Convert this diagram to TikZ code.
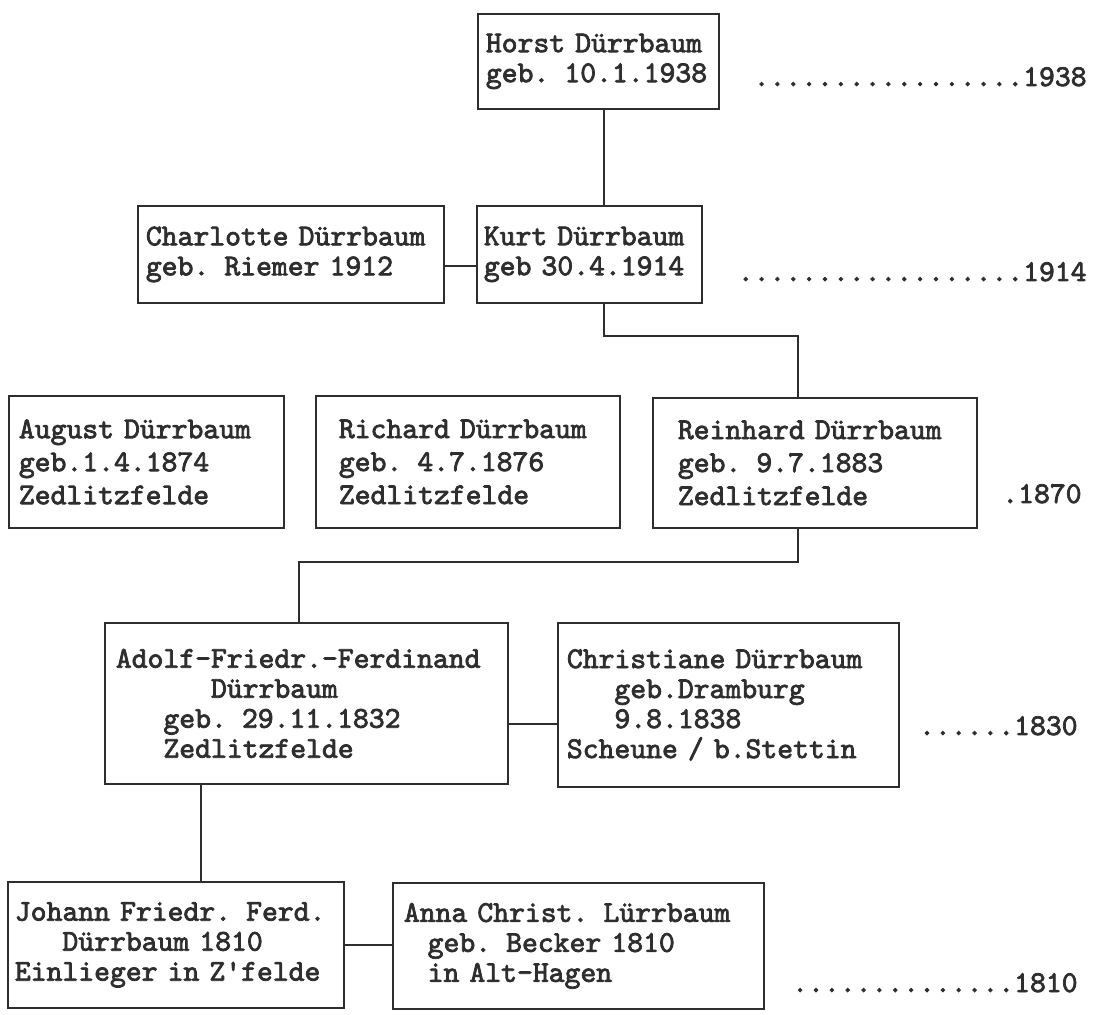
\documentclass[tikz,border=0pt]{standalone}
\usepackage{fontspec}
\usepackage{tikz}

\newfontfamily\typew{lmmono10-regular}[Extension = .otf, FakeBold = 2.5]
\definecolor{ink}{HTML}{2E2E2E}
\newcommand{\typesp}[1]{\hspace*{#1\dimexpr 0.525em\relax}}
\newcommand{\typefont}[1]{\typew\fontsize{15.1}{#1}\selectfont\spaceskip = 0.525em\relax}

\tikzset{
    person/.style = {draw = ink, line width = 0.9pt, anchor = north west, align = left,
        inner xsep = 5pt, inner ysep = 0pt, text = ink, font = \typefont{15}},
    yearmark/.style = {anchor = base east, inner sep = 0pt, text = ink, font = \typefont{15}},
    link/.style = {draw = ink, line width = 0.9pt}
}

\begin{document}
\begin{tikzpicture}[x = 0.5pt, y = -0.5pt]
            \useasboundingbox (0, 0) rectangle (1109, 1015);

            \node[person, inner xsep = 4pt, text width = 112.5pt, minimum height = 47.5pt] (horst) at (477, 13)
                {Horst Dürrbaum\\geb. 10.1.1938};
            \node[person, inner xsep = 4pt, text width = 145pt, minimum height = 48.5pt] (charlotte) at (137, 205)
                {Charlotte Dürrbaum\\geb. Riemer 1912};
            \node[person, inner xsep = 3.5pt, text width = 105.5pt, minimum height = 48.5pt] (kurt) at (476, 205)
                {Kurt Dürrbaum\\geb 30.4.1914};

            \node[person, text width = 127.5pt, minimum height = 66pt, font = \typefont{16.5}] (august) at (8, 395)
                {August Dürrbaum\\geb.1.4.1874\\Zedlitzfelde};
            \node[person, inner xsep = 11.5pt, text width = 129pt, minimum height = 66pt, font = \typefont{16.5}] (richard) at (315, 395)
                {Richard Dürrbaum\\geb. 4.7.1876\\Zedlitzfelde};
            \node[person, inner xsep = 12.5pt, text width = 137pt, minimum height = 65pt, font = \typefont{16.5}] (reinhard) at (652, 397)
                {Reinhard Dürrbaum\\geb. 9.7.1883\\Zedlitzfelde};

            \node[person, inner xsep = 5.5pt, text width = 190.5pt, minimum height = 80.5pt] (adolf) at (104, 622)
                {Adolf-Friedr.-Ferdinand\\\typesp{6}Dürrbaum\\\typesp{3}geb. 29.11.1832\\\typesp{3}Zedlitzfelde};
            \node[person, inner xsep = 4.5pt, text width = 161.5pt, minimum height = 82pt] (christiane) at (557, 622)
                {Christiane Dürrbaum\\\typesp{3}geb.Dramburg\\\typesp{3}9.8.1838\\Scheune / b.Stettin};

            \node[person, inner xsep = 3.5pt, text width = 161pt, minimum height = 63pt] (johann) at (7, 881)
                {Johann Friedr. Ferd.\\\typesp{3}Dürrbaum 1810\\Einlieger in Z\textquotesingle felde};
            \node[person, inner xsep = 5.5pt, text width = 174.5pt, minimum height = 63pt] (anna) at (392, 882)
                {Anna Christ. Lürrbaum\\\typesp{1.5}geb. Becker 1810\\\typesp{1.5}in Alt-Hagen};

            \node[yearmark] (y1938) at (1087, 86) {.................1938};
            \node[yearmark] (y1914) at (1087, 281) {..................1914};
            \node[yearmark] (y1870) at (1082, 503) {.1870};
            \node[yearmark] (y1830) at (1078, 735) {......1830};
            \node[yearmark] (y1810) at (1078, 992) {..............1810};

            \draw[link] ([xshift = 2.75pt]horst.south) -- ([xshift = 2.75pt]horst.south |- kurt.north);
            \draw[link] ([yshift = -6pt]charlotte.east) -- ([yshift = -6pt]kurt.west);
            \draw[link] ([xshift = 2.75pt]horst.south |- kurt.south) -- ++(0, 32)
                -| ([xshift = -8.5pt]reinhard.north);
            \draw[link] ([xshift = -8.5pt]reinhard.south) -- ++(0, 33)
                -| ([xshift = -3.75pt]adolf.north);
            \draw[link] ([yshift = -10.5pt]adolf.east) -- ([yshift = -10.5pt]adolf.east -| christiane.west);
            \draw[link] ([xshift = 12.5pt]johann.north |- adolf.south) -- ([xshift = 12.5pt]johann.north);
            \draw[link] (johann.east) -- (johann.east -| anna.west);
        \end{tikzpicture}
\end{document}
